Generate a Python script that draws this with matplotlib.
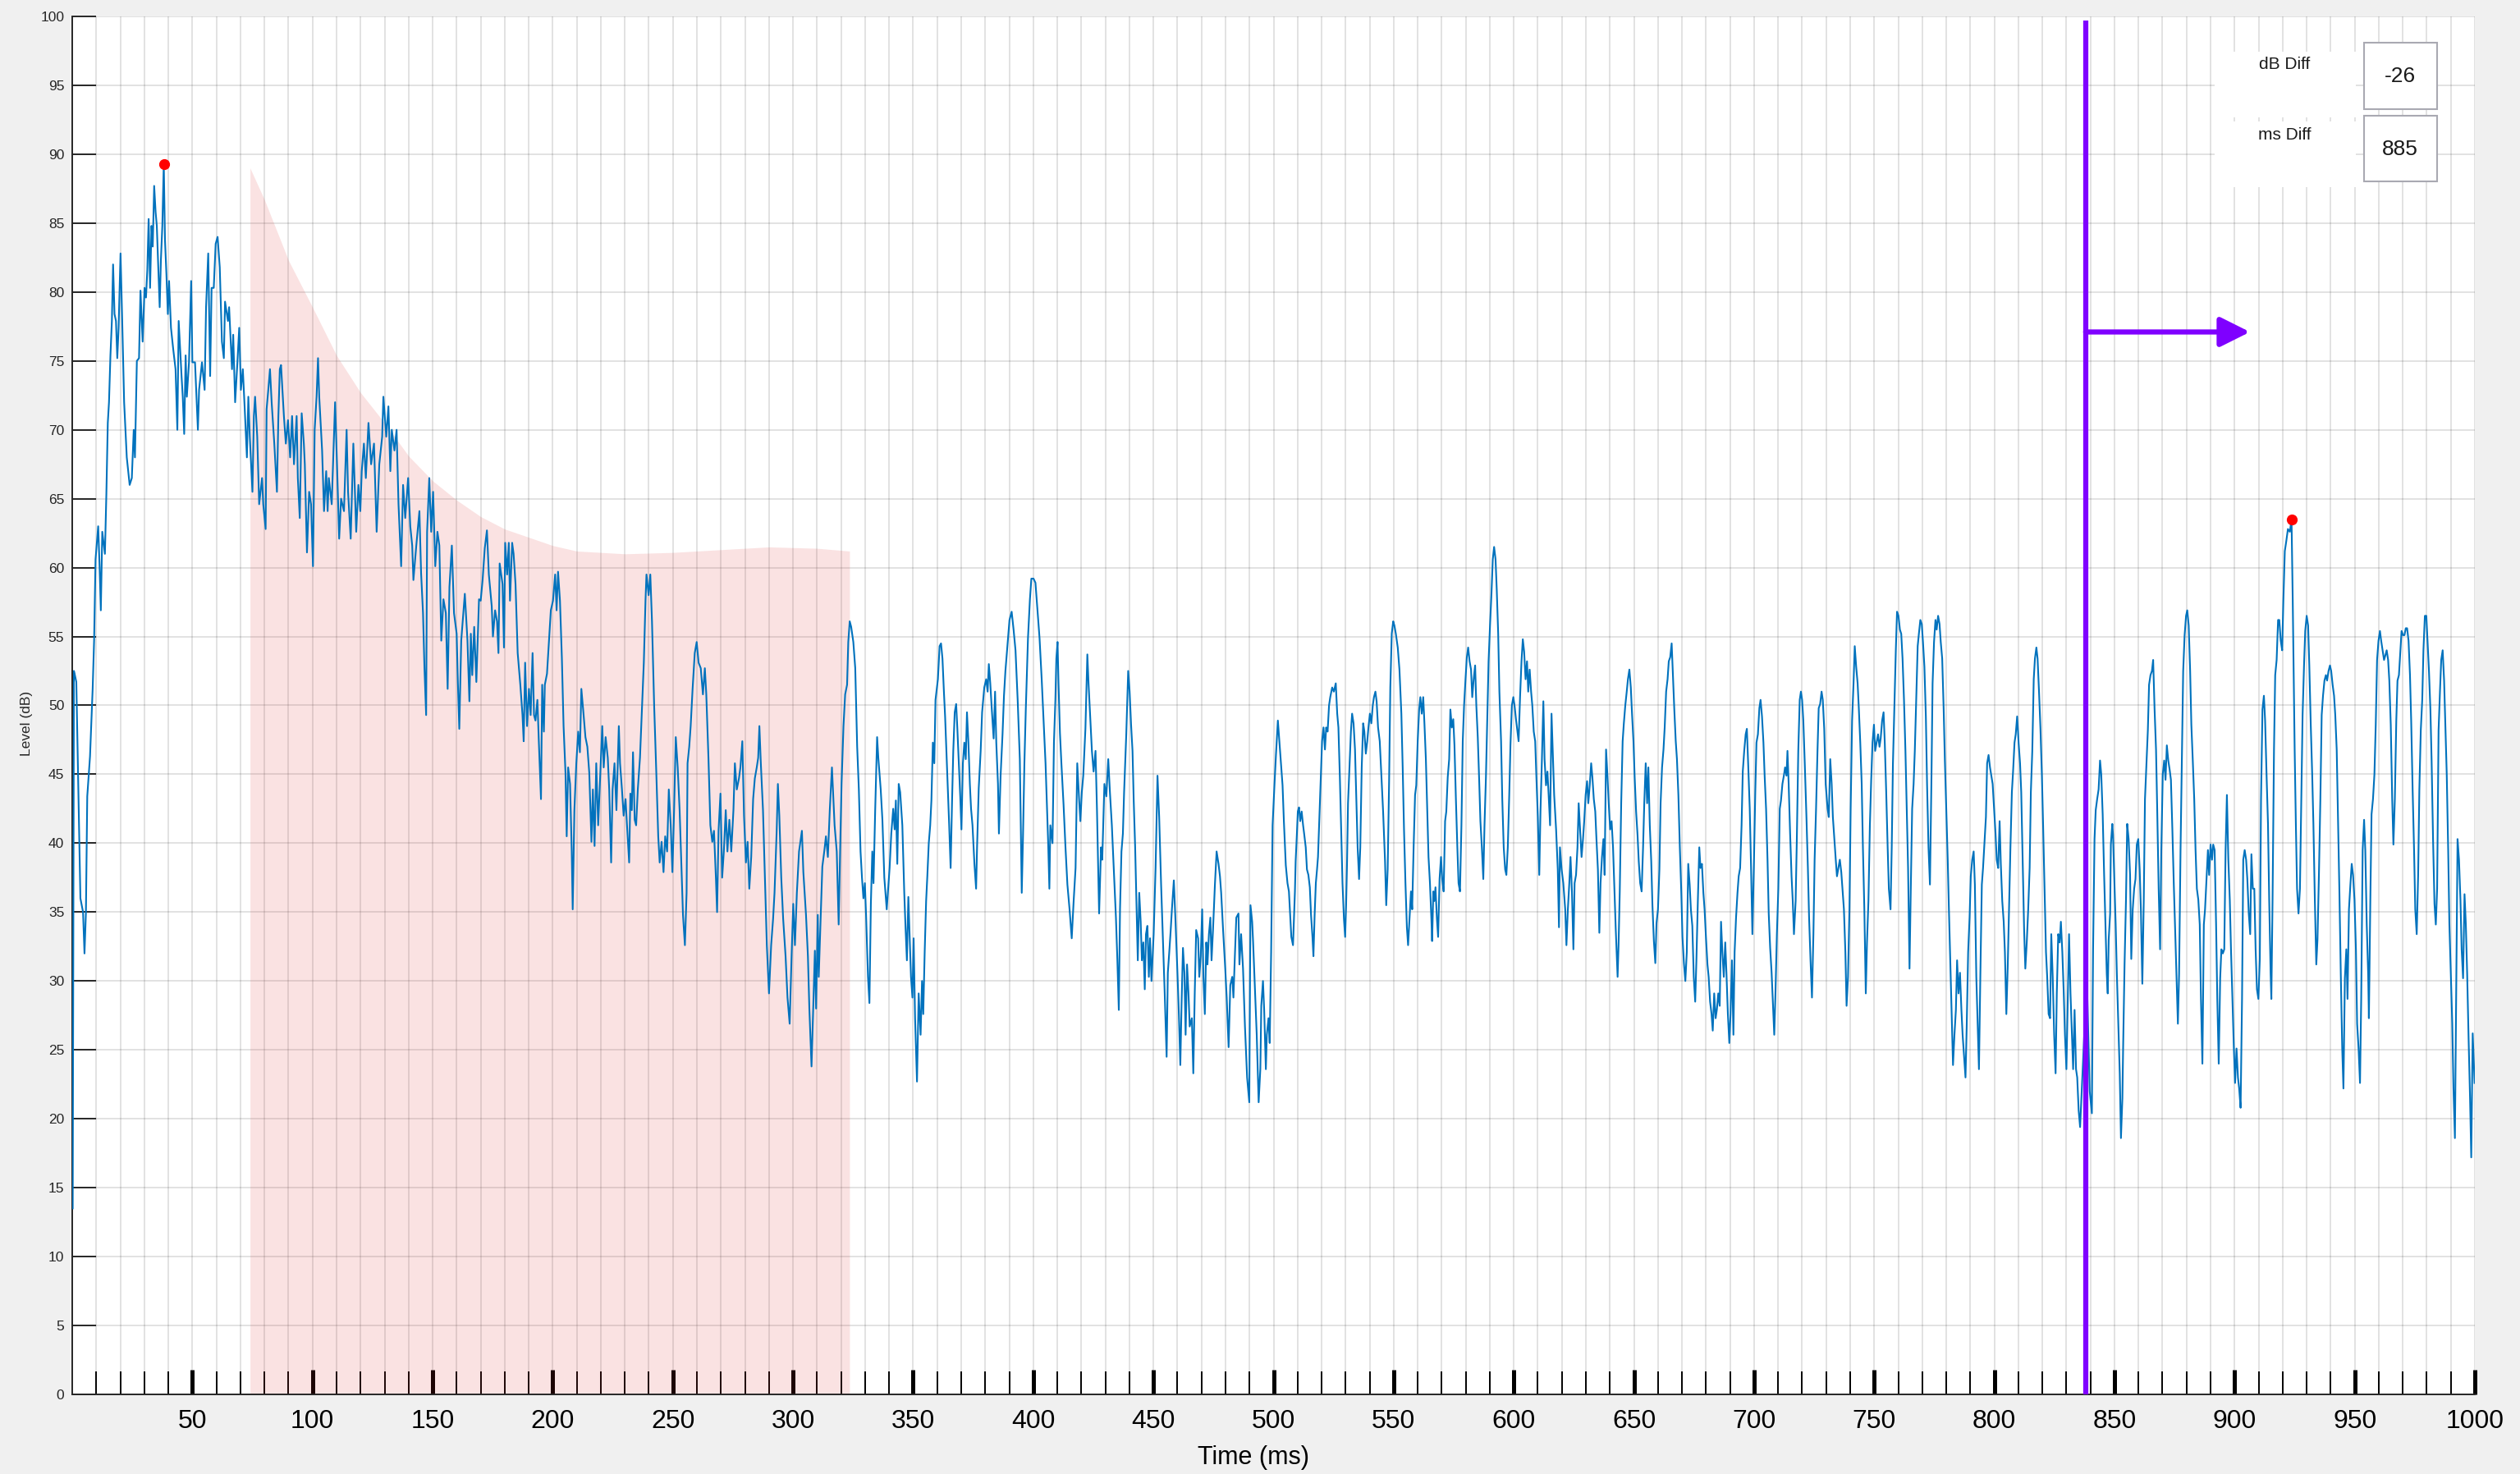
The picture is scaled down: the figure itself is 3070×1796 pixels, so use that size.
import numpy as np
import matplotlib
matplotlib.use("Agg")
import matplotlib.pyplot as plt
from matplotlib.patches import Rectangle

plt.rcParams['font.family'] = ['Liberation Sans', 'DejaVu Sans']

# ---------------- data (time in ms, level in dB) ----------------
seg_0_170 = [(0.2,13.5),(0.7,52.5),(1.1,52.2),(1.7,51.7),(3.4,36),(4.5,35),(5.1,32),(5.7,35),(6.25,43.4),(7.4,46.3),(8.5,51.2),(9.1,54.7),(9.7,60.6),(10.8,63),(11.4,60),(11.9,56.9),(12.5,62.6),(13.6,61),(14.2,65.3),(14.8,70.5),(15.3,72),(15.9,75.4),(16.5,77.9),(17,82),(17.6,78.4),(18.2,77.9),(18.75,75.2),(19.3,77.4),(20.1,82.8),(20.8,77.9),(21.6,72),(22.7,68),(23.9,66),(24.8,66.5),(25.6,70),(26.1,68),(26.9,75),(27.8,75.2),(28.4,80.1),(29.3,76.4),(30.1,80.3),(30.7,79.6),(31.25,81.6),(31.8,85.3),(32.4,80.3),(33,84.8),(33.5,83.3),(34.1,87.7),(34.7,85.8),(35.2,84.8),(36.4,78.9),(36.9,82.3),(37.5,84.8),(38.1,89.3),(38.6,83.8),(39.2,81.3),(39.8,78.4),(40.3,80.8),(41.1,77.4),(42,75.9),(43,74.4),(43.75,70),(44.3,77.9),(44.9,75.9),(45.5,73.9),(46,72.4),(46.6,69.7),(47.2,75.4),(47.7,72.4),(48.6,74.9),(49.5,80.8),(50,74.9),(51.1,74.9),(52.3,70),(52.8,72.9),(54,74.9),(55.1,72.9),(55.7,78.9),(56.6,82.8),(57.4,73.9),(58,80.3),(58.9,80.3),(59.7,83.5),(60.5,84),(61.4,81.8),(62.3,76.4),(63.1,75.2),(63.6,79.3),(64.8,77.9),(65.3,78.9),(66.5,74.4),(67,76.9),(67.8,72),(68.75,74.9),(69.5,77.4),(70.2,72.9),(71,74.4),(71.8,71.5),(72.7,68),(73.3,72.4),(73.9,69.5),(75,65.5),(75.6,71),(76.1,72.4),(77,69.5),(77.8,64.6),(79,66.5),(79.5,64.6),(80.5,62.8),(80.9,71.5),(81.6,72.9),(82.3,74.4),(83,72),(84.1,69),(85.2,65.5),(85.8,71),(86.4,74.4),(86.9,74.7),(88.1,71),(88.9,69),(89.8,70.7),(90.7,68),(91.5,71),(92.3,67.5),(93.4,71),(93.9,66.5),(94.7,63.6),(95.5,71.2),(96.4,69),(96.8,67.5),(97.7,61.1),(98.6,65.5),(99.4,64.6),(100.2,60.1),(100.9,70),(101.7,72.4),(102.3,75.2),(102.8,72.4),(104,68.5),(104.8,64.1),(105.7,67),(106.3,64.1),(106.8,66.5),(108,64.6),(108.75,68.5),(109.4,72),(110.2,67.5),(111.1,62.1),(111.9,65),(113.1,64.1),(114.2,70),(114.8,65.5),(115.9,62.1),(117,69),(118.2,62.6),(119.1,66),(119.9,64.1),(120.5,67),(121.4,69),(122.2,66.5),(123.3,70.5),(124.4,67.5),(125.6,69),(126.7,62.6),(127.8,67.5),(129,69.5),(129.5,72.4),(130.7,69.5),(131.6,71.7),(132.4,67),(133,70),(134.1,68.5),(135,70),(135.8,64.6),(136.9,60.1),(137.7,66),(138.6,63.6),(139.8,66.5),(140.7,63),(141.5,61.6),(142,59.1),(143.2,61.6),(144.5,64.1),(145.2,59.6),(146,56.7),(146.6,52.7),(147.3,49.3),(147.7,62.6),(148.6,66.5),(149.4,62.6),(150.2,65.5),(151.1,60.1),(152,62.6),(152.8,61.6),(153.6,54.7),(154.5,57.7),(155.5,56.7),(156.25,51.2),(157,58.6),(158,61.6),(158.9,56.7),(160,55.2),(160.5,51.7),(161.1,48.3),(161.9,54.7),(163.4,58.1),(164.5,54.7),(165.3,50.3),(165.9,55.2),(166.5,52.2),(167.3,55.7),(168.2,51.7),(169.3,57.7)]

seg_170_340 = [(170,57.6),(170.8,59.1),(171.7,61.4),(172.6,62.7),(173.4,59.5),(174.6,57.2),(175.1,55),(176,56.9),(176.8,56.1),(177.4,53.8),(177.9,60.3),(179.1,58.8),(179.7,54.2),(180.2,61.8),(181,59.5),(181.7,61.8),(182.2,57.6),(183.1,61.8),(183.7,61),(184.5,58.8),(185.4,53.8),(186.5,51.5),(187.4,49.3),(187.9,47.4),(188.5,53.1),(189.3,48.5),(190.1,51.2),(190.8,49.3),(191.6,53.8),(192.2,49.3),(192.8,48.9),(193.6,50.4),(194.2,47.4),(195.1,43.2),(195.6,51.5),(196.3,48.1),(196.7,51.5),(197.6,52.3),(198.4,54.6),(199.2,56.9),(200.1,57.6),(201,59.5),(201.6,56.9),(202.2,59.7),(203,57.6),(203.8,53.4),(204.5,48.5),(205.3,45.1),(205.8,40.5),(206.4,45.5),(207.2,44.3),(207.9,39.4),(208.3,35.2),(209,42.4),(209.8,45.8),(210.6,48.1),(211.3,46.6),(211.9,51.2),(212.7,49.6),(213.6,47.7),(214.4,47),(215.2,45.1),(216.1,40.1),(216.7,43.9),(217.4,39.8),(218.1,45.8),(218.9,41.3),(219.7,44.7),(220.6,48.5),(221.2,45.5),(222,47.7),(222.9,46.2),(223.5,43.9),(224.3,38.6),(224.9,43.9),(225.7,45.8),(226.5,42.4),(227.5,48.5),(228,45.8),(228.8,43.9),(229.5,42),(230.3,43.2),(230.9,41.3),(231.8,38.6),(232.3,43.6),(232.9,42.4),(233.4,46.6),(234.1,41.7),(234.7,41.3),(235.4,43.9),(236.3,46.2),(237.1,49.6),(237.9,53.1),(238.6,57.6),(239,59.5),(239.9,58),(240.6,59.5),(241.3,56.1),(242.2,50),(243.1,45.1),(243.9,40.5),(244.5,38.6),(245.3,40.1),(246.1,37.9),(246.8,40.5),(247.6,39.4),(248.3,43.9),(249.1,41.3),(249.8,37.9),(250.5,42.4),(251.2,47.7),(252,45.5),(252.8,42.4),(253.5,38.6),(254.2,34.8),(255,32.6),(255.7,36.4),(256.1,45.8),(256.8,47),(257.4,48.5),(258.2,51.2),(259.1,53.8),(259.9,54.6),(260.7,53.1),(261.6,52.7),(262.5,50.8),(263.3,52.7),(263.9,50.8),(264.8,46.2),(265.6,41.3),(266.4,40.1),(267.1,40.9),(267.9,37.5),(268.4,35),(269,40.9),(269.8,43.6),(270.5,37.5),(271.2,39.4),(272,42.4),(272.7,39.4),(273.5,41.7),(274.3,39.4),(275.2,42.4),(275.8,45.8),(276.6,43.9),(277.5,44.7),(278.1,45.5),(278.9,47.4),(279.6,42),(280.4,38.6),(281.1,40.1),(281.8,36.7),(282.6,39),(283.4,43.2),(284.1,44.7),(284.9,45.5),(285.5,46.2),(286,48.5),(286.6,45.8),(287.5,42.4),(288.3,37.5),(289.1,32.6),(290,29.1),(290.9,32.6),(291.7,34.5),(292.3,36.4),(293.2,40.9),(293.7,44.3),(294.3,42),(295.1,37.5),(295.9,34.5),(296.9,31.8),(297.7,28.8),(298.6,26.9),(299.4,31.8),(300.1,35.6),(300.8,32.6),(301.6,36.4),(302.5,39.4),(303.7,40.9),(304.3,37.9),(305.4,34.8),(306.2,31.8),(306.8,28),(307.7,23.8),(308.4,28),(309.1,32.2),(309.6,28),(310.3,34.8),(310.7,30.3),(311.4,34.1),(312.2,38.3),(313,39.4),(313.7,40.5),(314.5,39),(315.3,42.4),(316.2,45.5),(316.8,43.2),(317.3,41.3),(318.2,39.4),(319,34.1),(319.6,39.4),(320.2,44.3),(321,48.5),(321.7,50.8),(322.5,51.5),(323,54.6),(323.6,56.1),(324.2,55.7),(325.1,54.6),(325.9,52.7),(326.7,47),(327.4,43.9),(328.1,39.4),(328.7,37.5),(329.3,36),(329.9,37.1),(330.4,34.8),(331.2,30.3),(331.8,28.4),(332.4,35.6),(333,39.4),(333.5,37.1),(334.2,42.4),(335,47.7),(335.5,46.2),(336.5,43.9),(337.2,41.7),(338,37.5),(339,35.2)]

seg_340_503 = [(340.2,38.2),(340.9,40.7),(341.7,42.5),(342.3,41),(342.8,43.1),(343.4,38.5),(344,44.3),(344.6,43.7),(345.5,41.3),(346.3,36.4),(346.8,34),(347.4,31.5),(348,36.1),(348.5,33.4),(349.1,30.3),(349.7,28.8),(350.2,33.1),(350.8,27.3),(351.6,22.7),(352.3,29.1),(353.1,26.1),(353.7,30),(354.2,27.6),(354.8,32.1),(355.4,35.8),(355.9,37.6),(356.5,40),(357.1,41.3),(357.6,43.1),(358.2,47.3),(358.8,45.8),(359.3,50.4),(360.3,51.9),(361,54.3),(361.6,54.5),(362.2,53.4),(362.8,51),(363.3,49.2),(363.9,46.4),(364.5,43.7),(365,41.3),(365.6,38.2),(366.2,43.1),(366.7,46.7),(367.3,49.5),(367.9,50.1),(368.4,48.3),(369,45.8),(369.6,43.4),(370.1,41),(370.7,45.8),(371.3,47.3),(371.9,46.1),(372.4,49.5),(373,47.3),(373.6,44.3),(374.1,42.5),(374.7,41.3),(375.5,38.5),(376.2,36.7),(376.6,39.7),(377.3,44),(378.1,46.7),(378.7,49.5),(379.6,51.3),(380.4,51.9),(381,51),(381.5,53),(382.1,51.6),(382.7,49.8),(383.5,47.6),(384.1,51),(384.6,47.3),(385.3,44.3),(385.7,40.7),(386.4,44.9),(387.2,47.9),(387.8,50.7),(388.4,52.5),(389.1,54),(390.1,56.2),(391,56.8),(391.8,55.5),(392.6,54),(393.5,50.4),(394.4,46.1),(395.2,36.4),(395.7,40.3),(396.3,45.8),(396.9,49.8),(397.8,54.9),(398.6,57.7),(399.2,59.2),(400.1,59.2),(400.9,58.9),(401.4,57.7),(402.6,54.9),(403.5,51.9),(404.3,48.9),(405.1,45.8),(405.8,42.2),(406.2,40),(406.7,36.7),(407.1,41.3),(408,40),(408.6,47.3),(409.2,50.4),(409.6,53.4),(410.1,54.6),(410.5,51.6),(411.1,48),(411.7,45.8),(412.6,42.8),(413.4,39.7),(414.2,37),(415.1,35.2),(416,33.1),(416.8,35.8),(417.6,38.2),(418.3,45.8),(419.1,43.1),(419.6,41.6),(420.2,43.7),(420.8,44.9),(421.7,48.3),(422.5,53.7),(423,51.6),(423.6,49.5),(424.4,46.7),(425.1,45.2),(425.9,46.7),(426.5,42.5),(427.4,34.9),(428.2,39.7),(428.7,38.8),(429.6,44.3),(430.4,43.4),(431.2,46.1),(431.9,43.7),(432.7,41.3),(433.5,38.2),(434.4,34.6),(435,31.5),(435.6,27.9),(436.1,35.2),(436.7,39.4),(437.3,40.7),(437.8,43.7),(438.7,47.9),(439.5,52.5),(440.1,51),(440.7,48.6),(441.3,46.7),(441.8,43.1),(442.4,39.7),(443,35.2),(443.5,31.5),(444.1,36.4),(444.7,34.3),(445.2,31.5),(445.8,32.8),(446.4,29.4),(446.9,33.4),(447.5,34),(448.1,30.3),(448.6,33.1),(449.2,30),(450.1,33.4),(450.9,38.2),(451.7,44.9),(452.4,41.9),(453.2,37),(454,32.8),(454.7,29.1),(455.5,24.5),(456,30.6),(456.6,32.1),(457.2,33.7),(457.7,35.2),(458.5,37.3),(459.2,34.3),(460,30.6),(460.6,27.6),(461.2,23.9),(461.7,28.2),(462.3,32.4),(462.9,30.6),(463.4,26.1),(464,31.2),(464.6,29.1),(465.1,26.7),(466,27.3),(466.6,23.3),(467.2,29.1),(467.8,33.7),(468.6,33.1),(469.1,30.3),(469.7,31.8),(470.3,35.2),(470.8,30.3),(471.4,27.6),(472,32.8),(472.5,31.2),(473.1,33.4),(473.7,34.6),(474.2,31.5),(474.8,33.7),(475.6,37),(476.3,39.4),(477.1,38.5),(477.7,37.6),(478.2,36.4),(479,33.7),(479.9,30.9),(480.5,28.8),(481.3,25.2),(482,29.7),(482.8,30.3),(483.3,28.8),(483.9,31.8),(484.5,34.6),(485.4,34.9),(485.8,31.2),(486.5,33.4),(487.3,30.9),(488.1,26.7),(489,23),(489.9,21.2),(490.4,35.5),(491.1,34.3),(491.5,32.8),(492.2,29.7),(493,26.1),(493.8,21.2),(494.5,23.6),(494.9,28.2),(495.6,30),(496.1,27.9),(496.8,23.6),(497.2,26.1),(497.9,27.3),(498.4,25.5),(499,32.1),(499.6,41.3),(500.4,44.3),(501,46.4),(501.8,48.9),(502.7,46.7)]

seg_503_671 = [(503.75,44.2),(504.3,41.6),(505.1,38.4),(505.8,37.1),(506.4,36.5),(506.9,34.8),(507.4,33.2),(508.1,32.6),(508.5,34.5),(508.9,36.5),(509.2,38.7),(509.7,40.6),(510.1,42.3),(510.6,42.6),(511.1,41.6),(511.7,42.3),(512.3,41.3),(512.8,40.6),(513.4,39.7),(513.9,38.1),(514.5,37.7),(515.1,36.8),(515.6,34.8),(516.2,33.2),(516.6,31.8),(517.1,34.8),(517.6,37.1),(518.1,38.1),(518.5,39),(519.1,41.9),(519.7,44.8),(520.2,47.4),(520.8,48.4),(521.4,46.8),(521.9,48.4),(522.5,48.1),(523.1,50),(523.6,50.6),(524.4,51.3),(525.1,51),(525.9,51.6),(526.5,49.4),(527,48.4),(527.6,44.8),(528.2,40.6),(528.7,37.1),(529.3,34.5),(529.8,33.2),(530.2,35.5),(530.6,38.7),(531,42.9),(531.6,45.5),(532.2,48.1),(532.7,49.4),(533.3,48.7),(533.9,46.8),(534.4,43.5),(535,39.7),(535.6,37.4),(536.1,39.7),(536.7,45.5),(537.3,48.7),(537.8,48.1),(538.4,46.5),(539,47.4),(539.5,48.4),(540.1,49.4),(540.7,48.7),(541.3,50),(541.8,50.6),(542.4,51),(542.9,50.3),(543.5,48.4),(544.2,47.4),(544.9,44.8),(545.6,42.3),(546.4,38.7),(546.9,35.5),(547.5,38.1),(548.1,44.5),(548.6,51.3),(549.2,55.2),(549.8,56.1),(550.3,55.8),(550.9,55.2),(551.7,54.2),(552.4,52.6),(553.2,49.4),(553.75,45.5),(554.3,41),(554.9,37.1),(555.5,33.9),(556,32.6),(556.6,34.5),(557.2,36.5),(557.7,35.2),(558.3,39.7),(558.9,43.5),(559.4,44.2),(560,47.4),(560.6,49.7),(561.1,50.6),(561.7,49.4),(562.3,50.6),(562.8,48.7),(563.4,46.1),(564,42.3),(564.5,39),(565.1,37.1),(565.7,34.5),(566,32.9),(566.5,36.5),(566.9,35.8),(567.4,36.8),(568,34.5),(568.5,33.2),(569.1,37.4),(569.7,39),(570.2,37.4),(570.8,36.5),(571.4,41.6),(571.9,42.3),(572.5,44.8),(573.1,46.1),(573.6,49.7),(574.2,48.4),(574.8,49),(575.3,47.1),(575.9,43.2),(576.5,39.7),(577,37.1),(577.6,36.5),(578.2,41.3),(578.75,47.4),(579.3,50),(579.9,51.9),(580.45,53.5),(581,54.2),(581.6,53.2),(582.2,52.6),(582.7,50.6),(583.3,51.9),(583.9,52.9),(584.4,50),(585,47.7),(585.6,44.5),(586.1,41.6),(586.7,39.7),(587.3,37.4),(587.8,41.3),(588.4,44.8),(589,49.4),(589.5,53.2),(590.1,55.8),(590.7,58.1),(591.25,60.6),(591.8,61.5),(592.4,60.6),(592.9,58.4),(593.5,55.2),(594,51),(594.7,47.4),(595.2,43.2),(595.8,39.7),(596.4,38.1),(596.9,37.7),(597.5,39.7),(598.1,43.5),(598.6,47.1),(599.2,50),(599.8,50.6),(600.3,50),(600.9,49),(601.5,48.1),(602,47.4),(602.6,50.6),(603.2,53.2),(603.75,54.8),(604.3,53.9),(604.9,51.9),(605.5,53.2),(606,51),(606.6,52.6),(607.2,51),(607.7,50),(608.3,48.1),(608.9,47.4),(609.4,44.8),(610,41.9),(610.6,37.7),(611.1,42.3),(611.7,46.1),(612.3,50.3),(612.8,46.1),(613.4,44.2),(614,45.2),(614.5,43.5),(615.1,41.3),(615.7,49.4),(616.2,46.8),(616.8,43.5),(617.6,41),(618.3,38.1),(618.8,33.9),(619.2,39.7),(619.9,38.1),(620.6,37.1),(621.4,35.2),(621.9,32.6),(622.5,35.2),(623.1,37.1),(623.6,39),(624.2,36.5),(624.8,32.3),(625.3,37.1),(625.9,37.7),(626.5,39.7),(627,42.9),(627.6,41),(628.2,39),(628.8,40.3),(629.3,41.6),(629.9,43.5),(630.5,44.5),(631,42.9),(631.6,44.2),(632.2,45.8),(632.7,44.8),(633.3,43.2),(633.9,42.3),(634.4,40.3),(635,38.1),(635.6,33.5),(636.1,37.1),(636.7,39),(637.3,40.3),(637.8,37.7),(638.4,46.8),(639,44.8),(639.5,42.9),(640.1,41),(640.7,41.6),(641.3,39.7),(641.8,37.1),(642.4,33.9),(643.2,30.3),(643.6,32.6),(644.1,36.5),(644.7,42.9),(645.3,47.4),(645.8,48.7),(646.4,50),(647,51),(647.5,51.9),(648.1,52.6),(648.7,51.3),(649.2,49.4),(649.8,47.4),(650.3,44.8),(650.9,42.3),(651.5,40.6),(652,38.7),(652.6,37.1),(653.2,36.5),(653.8,39.7),(654.3,42.9),(654.9,45.8),(655.5,42.9),(656,45.5),(656.6,41.3),(657.2,38.7),(657.7,35.5),(658.3,32.9),(658.9,31.3),(659.4,34.2),(660,35.2),(660.6,38.1),(661.1,42.9),(661.7,45.5),(662.3,46.8),(662.8,48.4),(663.4,51),(664,51.9),(664.5,53.2),(665.1,53.5),(665.7,54.5),(666.2,52.3),(666.8,49.7),(667.4,47.4),(667.9,46.1),(668.5,43.5),(669.1,39.7),(669.7,36.5),(670.2,33.2),(670.8,31.3),(671.4,30)]

seg_672_840 = [(672,32.1),(672.6,38.5),(673.2,37),(673.7,35.2),(674.3,34),(674.9,30.3),(675.5,28.5),(676,31.5),(676.6,35.8),(677.2,39.7),(677.7,38.2),(678.3,38.5),(678.9,36.4),(679.4,35.2),(680,33.1),(680.6,31.2),(681.1,30.3),(681.7,28.5),(682.3,27.6),(682.8,26.4),(683.4,29.1),(684,27.3),(684.5,27.9),(685.1,29.1),(685.7,28.2),(686.25,34.3),(686.8,32.1),(687.4,30.3),(688,32.8),(688.5,30.6),(689.1,27.6),(689.7,25.5),(690.2,27.6),(690.8,31.5),(691.4,26.1),(691.9,32.1),(692.5,34.6),(693.1,36.4),(693.6,37.6),(694.2,38.2),(694.8,41.3),(695.3,45.2),(695.9,46.7),(696.5,47.9),(697,48.3),(697.6,45.5),(698.2,42.5),(698.75,38.2),(699.3,33.4),(699.9,38.2),(700.5,43.7),(701,47.3),(701.6,47.9),(702.2,49.8),(702.7,50.4),(703.3,49.2),(703.9,47.3),(704.4,44.9),(705,42.5),(705.6,38.8),(706.1,34.9),(706.7,32.4),(707.3,30.6),(707.8,28.5),(708.4,26.1),(708.9,29.1),(709.5,33.4),(710.1,36.7),(710.7,42.5),(711.2,43.1),(711.8,44.3),(712.4,44.9),(712.9,45.5),(713.5,44.9),(713.9,46.7),(714.4,44.3),(715,40.7),(715.6,37.6),(716.1,35.8),(716.6,33.4),(717.3,35.8),(717.8,40.3),(718.4,46.7),(719,50.4),(719.5,51),(720,50.4),(720.5,48.9),(721.1,45.8),(721.8,41.9),(722.4,38.2),(722.9,34.6),(723.5,31.5),(724.1,28.8),(724.7,33.4),(725.2,38.8),(725.8,42.5),(726.4,46.7),(726.9,49.8),(727.5,50.1),(728.1,51),(728.6,50.4),(729.2,48.3),(729.8,44.3),(730.6,42.5),(731.1,41.9),(731.7,46.1),(732.3,44.3),(732.8,41.9),(733.4,40.3),(734,38.8),(734.5,37.6),(735.1,38.2),(735.7,38.8),(736.3,37.9),(736.8,36.7),(737.4,35.2),(738,32.1),(738.5,28.2),(739.1,30.3),(739.7,35.2),(740.2,42.5),(740.8,48.9),(741.4,51.6),(741.9,54.3),(742.5,52.8),(743.1,51.6),(743.6,49.8),(744.2,47.3),(744.8,44.3),(745.3,39.7),(745.9,35.2),(746.5,29.1),(747,32.8),(747.6,35.8),(748.2,41.3),(748.75,44.6),(749.3,47.3),(749.9,48.6),(750.4,46.7),(751,47.3),(751.6,47.9),(752.2,47),(752.7,47.6),(753.3,48.9),(753.9,49.5),(754.4,47.3),(755,43.7),(755.6,39.7),(756.1,36.7),(756.8,35.2),(757.3,39.7),(757.8,45.8),(758.4,49.8),(759,54),(759.5,56.8),(760.1,56.5),(760.7,55.5),(761.25,55.2),(761.8,53.4),(762.4,50.4),(763,46.7),(763.5,42.8),(764.1,38.2),(764.7,30.9),(765.2,36.4),(765.8,42.5),(766.4,44.3),(766.9,46.7),(767.5,50.4),(768.1,54.3),(768.6,55.2),(769.2,56.2),(769.8,55.9),(770.3,54.6),(770.9,52.8),(771.5,49.2),(772,44.3),(772.6,39.7),(773.2,37),(773.8,44.3),(774.3,51.6),(774.9,54.6),(775.5,56.2),(776,55.5),(776.6,56.5),(777.2,55.9),(777.7,54.6),(778.3,53.4),(778.9,49.8),(779.4,46.1),(780,42.5),(780.6,38.8),(781.1,35.2),(781.7,31.2),(782.3,27),(782.8,23.9),(783.4,26.1),(784,27.9),(784.5,31.5),(785.1,29.1),(785.7,30.6),(786.3,27.9),(786.8,26.1),(787.4,24.5),(788,23),(788.5,26.7),(789.1,32.1),(789.7,34.6),(790.2,37.6),(790.8,38.8),(791.4,39.4),(791.9,37),(792.5,30.3),(793.1,26.7),(793.6,23.6),(794.2,30.6),(794.8,37),(795.3,38.2),(795.9,40),(796.5,41.9),(797,45.8),(797.6,46.4),(798.2,45.5),(798.75,44.9),(799.3,44.3),(799.9,42.5),(800.5,40.7),(801,38.8),(801.6,38.2),(802.2,41.6),(802.7,38.5),(803.3,35.8),(803.9,34.3),(804.4,32.1),(805,27.6),(805.6,31.2),(806.1,35.2),(806.7,39.7),(807.3,43.7),(807.8,45.2),(808.4,47.3),(808.9,47.9),(809.5,49.2),(810.1,47.3),(810.7,45.8),(811.2,43.7),(811.8,38.8),(812.4,33.7),(812.9,30.9),(813.5,32.8),(814.1,35.2),(814.7,38.2),(815.2,43.7),(815.8,46.7),(816.4,51.9),(816.9,53.4),(817.5,54.2),(818,53.4),(818.6,51),(819.2,48.3),(819.8,44.9),(820.3,41.3),(820.9,36.7),(821.5,32.1),(822,30.3),(822.6,27.6),(823.2,27.3),(823.7,33.4),(824.3,30.3),(824.9,26.1),(825.5,23.3),(826,29.1),(826.6,33.4),(827.2,32.8),(827.7,34.3),(828.3,32.1),(828.9,29.1),(829.4,26.1),(830,23.6),(830.6,29.1),(831.1,33.4),(831.7,29.1),(832.3,26.1),(832.8,23.6),(833.4,27.9),(834,23.6),(834.5,23),(835.1,20.6),(835.7,19.4),(838.5,30.3),(839.1,26.1),(839.7,22)]

seg_840_1000 = [(840.6,20.4),(841.1,32.3),(841.7,40.3),(842.2,42.4),(842.8,43.2),(843.4,43.9),(844,46),(844.5,45),(845.1,42.1),(845.7,37.7),(846.25,34.1),(846.8,30.5),(847.2,29.1),(847.6,33),(848.2,34.9),(848.5,39.9),(849.1,41.4),(849.4,40.6),(849.9,37.7),(850.5,34.1),(851,30.5),(851.6,26.9),(852.2,23.3),(852.7,18.6),(853.3,21.5),(853.6,25.1),(854.2,31.2),(854.8,35.9),(855.3,41.4),(855.9,40.3),(856.5,37.7),(857,31.6),(857.6,35.2),(858.2,36.7),(858.75,37.4),(859.3,39.9),(859.9,40.3),(860.5,38.1),(861,35.2),(861.6,29.8),(862.2,35.9),(862.7,43.2),(863.3,45.7),(863.9,48.2),(864.4,51.5),(865,52.2),(865.6,52.5),(866.1,53.3),(866.7,49.7),(867.3,46.8),(867.8,42.4),(868.4,36.7),(869,32.3),(869.5,39.5),(870.1,45),(870.7,46),(871.25,44.6),(871.8,47.1),(872.4,46),(873,45.3),(873.5,44.6),(874.1,41),(874.7,37),(875.2,34.1),(875.8,30.5),(876.4,26.9),(876.9,30.5),(877.5,39.5),(878.1,46.8),(878.6,52.5),(879.2,55.1),(879.8,56.5),(880.3,56.9),(880.9,55.8),(881.5,52.5),(882,48.6),(882.6,46),(883.2,43.2),(883.75,39.5),(884.3,36.7),(884.9,35.9),(885.5,34.1),(886,28.7),(886.6,24),(887.2,34.1),(887.7,35.2),(888.3,37.4),(888.9,39.5),(889.4,37.7),(890,39.9),(890.6,38.8),(891.1,39.9),(891.7,39.5),(892.3,34.1),(892.8,28.7),(893.4,24),(894,30.2),(894.5,32.3),(895.1,32),(895.7,32.3),(896.25,39.5),(896.8,43.5),(897.4,38.8),(898,35.9),(898.5,32.3),(899.1,28.7),(899.7,25.1),(900.2,22.6),(900.8,25.1),(901.4,23),(901.9,22.2),(902.5,20.8),(903.1,28.7),(903.6,38.8),(904.2,39.5),(904.8,38.8),(905.3,37.4),(905.9,34.9),(906.5,33.4),(907,39.2),(907.6,36.7),(908.2,36.7),(908.75,32.3),(909.3,29.4),(909.9,28.7),(910.5,31.6),(911,43.2),(911.6,49.7),(912.2,50.7),(912.7,48.9),(913.3,45),(913.9,41.4),(914.4,35.9),(915,30.5),(915.3,28.7),(915.8,35.9),(916.4,46.8),(916.9,52.2),(917.5,53.3),(918.1,56.2),(918.6,56.2),(919.2,54.7),(919.8,54),(920.3,57.6),(920.9,61.2),(921.5,61.9),(922.2,62.8),(923,62.6),(923.7,63.5),(924.2,57.6),(924.6,52.2),(925,46.8),(925.5,41.4),(926,36.7),(926.6,34.9),(927.2,36.7),(927.7,42.4),(928.3,49.3),(928.9,52.9),(929.4,55.4),(930,56.5),(930.6,55.8),(931.1,52.9),(931.7,48.6),(932.3,45),(932.8,41.4),(933.4,35.9),(934,31.2),(934.5,33),(935.1,37.7),(935.7,43.2),(936.25,49.3),(936.8,50.7),(937.4,51.8),(938,52.2),(938.5,51.8),(939.1,52.5),(939.7,52.9),(940.2,52.5),(940.8,51.5),(941.4,50.7),(941.9,49.3),(942.5,46.8),(943.1,41.4),(943.6,36.7),(944.2,30.5),(944.8,25.1),(945.3,22.2),(945.9,30.2),(946.5,32.3),(947,28.7),(947.6,35.2),(948.2,37),(948.75,38.5),(949.3,37.7),(949.9,35.9),(950.5,32.3),(951,26.9),(951.6,25.1),(952.2,22.6),(952.7,28.7),(953.3,39.5),(953.9,41.7),(954.4,39.5),(955,34.1),(955.6,30.5),(955.9,27.3),(956.5,35.9),(957,42.1),(957.6,43.2),(958.2,45),(958.75,48.6),(959.3,53.3),(959.9,54.7),(960.5,55.4),(961,54.7),(961.6,54),(962.2,53.3),(962.7,53.6),(963.3,54),(963.9,53.3),(964.4,51.8),(965,48.6),(965.6,43.2),(966.1,39.9),(966.7,43.2),(967.3,48.9),(967.8,51.8),(968.4,52.2),(969,54),(969.5,55.4),(970.1,55.1),(970.7,55.1),(971.25,55.6),(971.8,55.6),(972.4,54.7),(973,52.2),(973.5,48.9),(974.1,43.9),(974.7,39.5),(975.2,35.2),(975.8,33.4),(976.4,37.7),(976.9,43.9),(977.5,48.2),(978.1,50.4),(978.6,54),(979.2,56.5),(979.8,56.5),(980.3,54.7),(980.9,52.5),(981.5,49.7),(982,46),(982.6,40.3),(983.2,35.6),(983.75,34.1),(984.3,36.7),(984.9,48.2),(985.5,51.1),(986,53.3),(986.6,54),(987.2,51.8),(987.7,48.6),(988.3,45),(988.9,39.5),(989.4,34.1),(990,30.5),(990.6,26.9),(991.1,22.2),(991.7,18.6),(992.3,30.5),(992.8,40.3),(993.4,38.8),(994,35.9),(994.5,32.3),(995.1,30.2),(995.7,36.3),(996.25,34.1),(996.8,30.5),(997.4,25.8),(998,21.5),(998.5,17.2),(999.1,26.2),(999.9,22.6)]

# decay-envelope shading (upper edge)
decay_ms = [74, 80, 90, 100, 110, 120, 130, 140, 150, 160, 170, 180, 190, 200, 210, 230, 250, 270, 290, 310, 323.5]
decay_db = [89.0, 86.7, 82.3, 78.9, 75.4, 72.7, 70.5, 68.1, 66.3, 64.9, 63.7, 62.8, 62.2, 61.6, 61.2, 61.0, 61.1, 61.3, 61.5, 61.4, 61.2]

peak_ms = [38.1, 923.7]
peak_db = [89.3, 63.5]

cursor_ms = 838
arrow_end_ms = 906.4
arrow_db = 77.1

db_diff = "-26"
ms_diff = "885"

x_major = list(range(50, 1001, 50))
x_minor = list(range(10, 1000, 10))
y_ticks = list(range(0, 101, 5))

# ---------------- figure ----------------
W, H = 3070, 1796
fig = plt.figure(figsize=(W / 100, H / 100), dpi=100, facecolor='#f0f0f0')
ax_l, ax_r, ax_t, ax_b = 88, 3015, 20, 1699
ax = fig.add_axes([ax_l / W, (H - ax_b) / H, (ax_r - ax_l) / W, (ax_b - ax_t) / H])
ax.set_facecolor('white')

segs = [seg_0_170, seg_170_340, seg_340_503, seg_503_671, seg_672_840, seg_840_1000]
pts = sorted(p for s in segs for p in s)
time_ms = np.array([p[0] for p in pts])
level_db = np.array([p[1] for p in pts])

ax.fill_between(decay_ms, 0, decay_db, color=(0.85, 0.15, 0.15), alpha=0.13, lw=0, zorder=1)
ax.plot(time_ms, level_db, color='#0072BD', lw=1.5, zorder=3)
ax.plot(peak_ms, peak_db, 'o', color='red', ms=8.5, mec='red', zorder=4)

purple = '#7F00FF'
ax.plot([cursor_ms, cursor_ms], [0, 99.7], color=purple, lw=4.5, solid_capstyle='butt', zorder=6)
ax.annotate('', xy=(arrow_end_ms, arrow_db), xytext=(cursor_ms, arrow_db),
            arrowprops=dict(arrowstyle='-|>,head_length=2.2,head_width=1.1', color=purple,
                            lw=4.5, shrinkA=0, shrinkB=0, mutation_scale=10),
            zorder=6)

ax.set_xlim(0, 1000)
ax.set_ylim(0, 100)
ax.set_xticks(x_major)
ax.set_xticks(x_minor, minor=True)
ax.set_yticks(y_ticks)
ax.set_xticklabels([str(v) for v in x_major])
ax.set_yticklabels([str(v) for v in y_ticks])

ax.set_axisbelow(True)
ax.grid(True, which='both', axis='x', color='#262626', alpha=0.15, lw=1.3)
ax.grid(True, which='major', axis='y', color='#262626', alpha=0.15, lw=1.3)

for side in ['top', 'right']:
    ax.spines[side].set_visible(False)
for side in ['left', 'bottom']:
    ax.spines[side].set_color('#262626')
    ax.spines[side].set_linewidth(1.4)

ax.tick_params(axis='x', which='major', direction='in', length=21.5, width=3.6, color='black',
               labelsize=23, labelcolor='black', pad=13)
ax.tick_params(axis='x', which='minor', direction='in', length=20, width=1.4, color='black')
ax.tick_params(axis='y', which='major', direction='in', length=21, width=1.4, color='#262626',
               labelsize=12.5, labelcolor='#262626', pad=7)

ax.set_xlabel('Time (ms)', fontsize=22, color='black')
ax.xaxis.set_label_coords((1527 - ax_l) / (ax_r - ax_l), (ax_b - 1776) / (ax_b - ax_t))
ax.xaxis.label.set_va('center')
ax.set_ylabel('Level (dB)', fontsize=12.5, color='#262626')
ax.yaxis.set_label_coords((33 - ax_l) / (ax_r - ax_l), (ax_b - 881) / (ax_b - ax_t))
ax.yaxis.label.set_va('center')

# ---------------- readout panel ----------------
def fx(px):
    return px / W

def fy(py):
    return 1 - py / H

for (y0, y1, label, ytxt) in [(63, 143, 'dB Diff', 78), (148, 228, 'ms Diff', 164)]:
    fig.add_artist(Rectangle((fx(2698), fy(y1)), fx(2870) - fx(2698), fy(y0) - fy(y1),
                             transform=fig.transFigure, facecolor='white', edgecolor='none', zorder=10))
    fig.text(fx(2783), fy(ytxt), label, fontsize=15, color='#1a1a1a', ha='center', va='center', zorder=11)

for (y0, y1, val) in [(52, 133, db_diff), (141, 221, ms_diff)]:
    fig.add_artist(Rectangle((fx(2880), fy(y1)), fx(2969) - fx(2880), fy(y0) - fy(y1),
                             transform=fig.transFigure, facecolor='white', edgecolor='#a9a9b2',
                             lw=1.5, zorder=10))
    fig.text(fx(2924), fy((y0 + y1) / 2 + 1), val, fontsize=19, color='#1a1a1a', ha='center', va='center', zorder=11)

fig.savefig('out.png', dpi=100, facecolor=fig.get_facecolor())
